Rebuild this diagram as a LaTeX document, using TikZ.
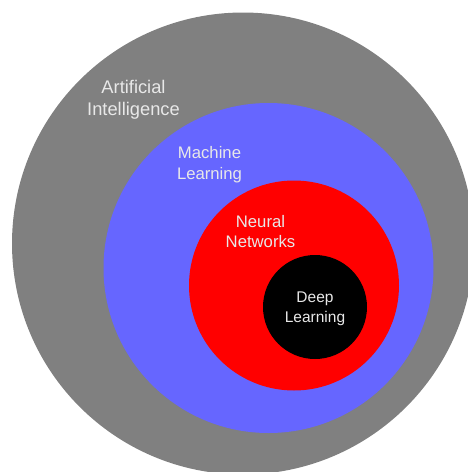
\documentclass[tikz,border=0pt]{standalone}
\usepackage{fontspec}
\setmainfont{Liberation Sans}
\usepackage{tikz}
\definecolor{aigray}{RGB}{128, 128, 128}
\definecolor{mlblue}{RGB}{102, 102, 255}
\definecolor{nnred}{RGB}{255, 0, 0}
\definecolor{dlblack}{RGB}{0, 0, 0}
\definecolor{labelwhite}{RGB}{232, 232, 232}
\tikzset{
  ring/.style={circle, draw=none, fill=#1, inner sep=0pt, outer sep=0pt},
  ring/.default=aigray,
  ringlabel/.style={text=labelwhite, align=center, inner sep=0pt},
}

\begin{document}
\begin{tikzpicture}[x=1pt, y=-1pt]
        \useasboundingbox (0,0) rectangle (468,472);
        \node[ring=aigray, minimum size=462pt] (ai) at (243,243.5) {};
        \node[ring=mlblue, minimum size=330pt] (ml) at (268.5,268) {};
        \node[ring=nnred, minimum size=210pt] (nn) at (294,285.5) {};
        \node[ring=dlblack, minimum size=104pt] (dl) at (315,307) {};
        \node[ringlabel, font=\fontsize{18.3}{22.5}\selectfont] (ailabel) at (133.5,100)
             {Artificial\\Intelligence};
        \node[ringlabel, font=\fontsize{16.7}{21}\selectfont] (mllabel) at (209.5,164.5)
             {Machine\\Learning};
        \node[ringlabel, font=\fontsize{16.7}{20}\selectfont] (nnlabel) at (260.5,232)
             {Neural\\Networks};
        \node[ringlabel, font=\fontsize{15.5}{20}\selectfont] (dllabel) at (315,308.5)
             {Deep\\Learning};
\end{tikzpicture}
\end{document}
